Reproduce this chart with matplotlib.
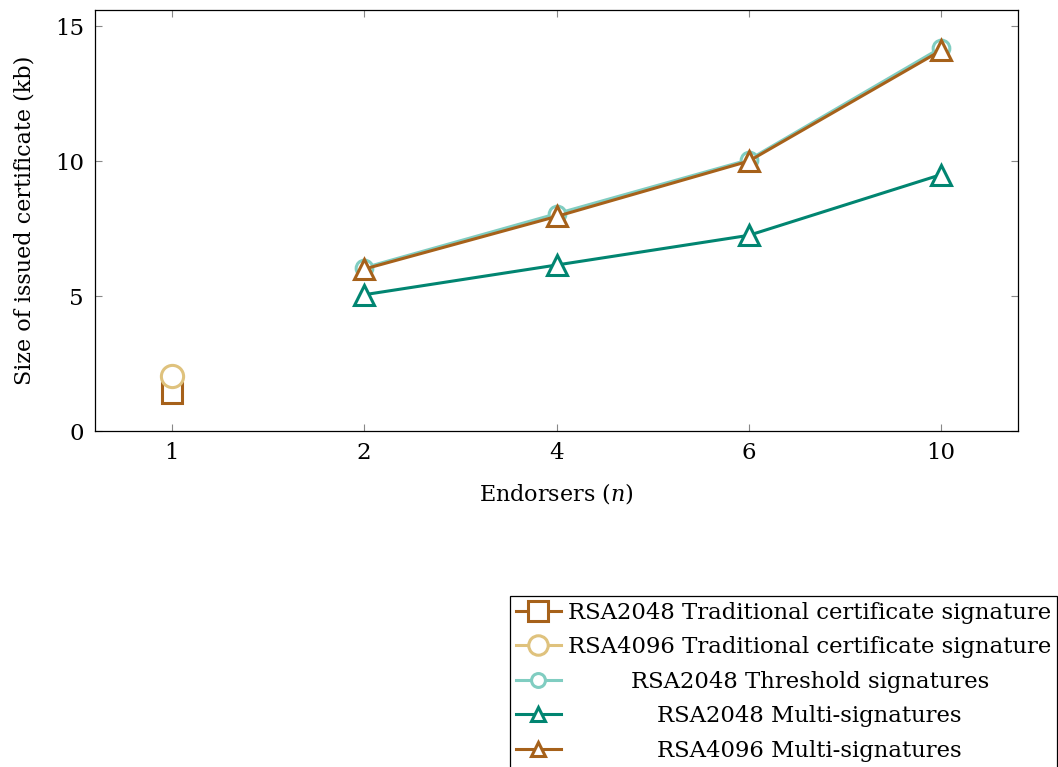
import matplotlib.pyplot as plt

plt.rcParams.update({
    'font.family': 'DejaVu Serif',
    'mathtext.fontset': 'dejavuserif',
})

# data
endorsers = ['1', '2', '4', '6', '10']
x_trad = ['1']
rsa2048_trad = [1.4]
rsa4096_trad = [2.05]
x_multi = ['2', '4', '6', '10']
rsa2048_threshold = [6.05, 8.05, 10.05, 14.2]
rsa2048_multi = [5.05, 6.15, 7.25, 9.5]
rsa4096_multi = [6.0, 7.95, 10.0, 14.1]

C_BROWN = '#A6611A'
C_TAN = '#DFC27D'
C_LTEAL = '#80CDC1'
C_TEAL = '#018571'

pos_trad = [endorsers.index(x) for x in x_trad]
pos_multi = [endorsers.index(x) for x in x_multi]

fig = plt.figure(figsize=(10.58, 7.67), dpi=100)
ax = fig.add_axes([95 / 1058, 1 - 431 / 767, (1018 - 95) / 1058, (431 - 10) / 767])

lw = 2.2
mew = 2.2
ax.plot(pos_trad, rsa2048_trad, color=C_BROWN, lw=lw, marker='s', ms=15,
        mfc='white', mew=mew, label='RSA2048 Traditional certificate signature')
ax.plot(pos_trad, rsa4096_trad, color=C_TAN, lw=lw, marker='o', ms=16,
        mfc='white', mew=mew, label='RSA4096 Traditional certificate signature')
ax.plot(pos_multi, rsa2048_threshold, color=C_LTEAL, lw=lw, marker='o', ms=12,
        mfc='white', mew=mew, label='RSA2048 Threshold signatures')
ax.plot(pos_multi, rsa2048_multi, color=C_TEAL, lw=lw, marker='^', ms=14,
        mfc='white', mew=mew, label='RSA2048 Multi-signatures')
ax.plot(pos_multi, rsa4096_multi, color=C_BROWN, lw=lw, marker='^', ms=14,
        mfc='white', mew=mew, label='RSA4096 Multi-signatures')

ax.set_xlim(-0.4, len(endorsers) - 1 + 0.4)
ax.set_ylim(0, 15.6)
ax.set_xticks(range(len(endorsers)))
ax.set_xticklabels(endorsers)
ax.set_yticks([0, 5, 10, 15])
ax.tick_params(direction='in', length=5, width=0.8, color='#888888',
               labelsize=16.5, top=True, right=True, pad=8)
for s in ax.spines.values():
    s.set_linewidth(0.9)

ax.set_xlabel('Endorsers ($n$)', fontsize=16, labelpad=12)
ax.set_ylabel('Size of issued certificate (kb)', fontsize=16, labelpad=14)

leg = fig.legend(loc='upper left', bbox_to_anchor=(510 / 1058, 1 - 596 / 767),
                 fontsize=16.4, frameon=True, fancybox=False, edgecolor='black',
                 framealpha=1, handlelength=2.0, handletextpad=0.3,
                 labelspacing=0.55, borderpad=0.25, borderaxespad=0)
leg.get_frame().set_linewidth(0.9)
for h, ms in zip(leg.legend_handles, [14, 14, 10, 10, 10]):
    h.set_markersize(ms)

# centre the legend texts like pgfplots
fig.canvas.draw()
r = fig.canvas.get_renderer()
texts = leg.get_texts()
widths = [t.get_window_extent(r).width for t in texts]
wmax = max(widths)
for t, w in zip(texts, widths):
    t.set_x((wmax - w) / 2)

fig.savefig('out.png', dpi=100, facecolor='white')
